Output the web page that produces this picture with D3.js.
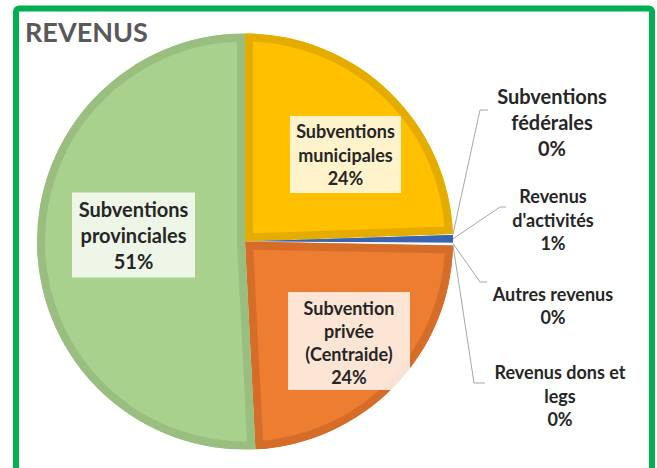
<!DOCTYPE html>
<html>
<head>
<meta charset="utf-8">
<script src="https://cdn.jsdelivr.net/npm/d3@7"></script>
<style>
  html, body { margin: 0; padding: 0; background: #fff; }
</style>
</head>
<body>
<div id="chart"></div>
<script>
// Revenus: parts en %, dans l'ordre horaire depuis midi
var CATEGORIES = ['Subventions\nmunicipales', 'Subventions\nfédérales', "Revenus\nd'activités",
                  'Autres revenus', 'Revenus dons et\nlegs', 'Subvention\nprivée\n(Centraide)',
                  'Subventions\nprovinciales'];
var VALUES = [24.45, 0.05, 0.6, 0.1, 0.1, 23.9, 50.8];
var TITLE = 'REVENUS';

// couleurs de remplissage / bordure par part
var FILLS = ['#FFC000', '#FFFFFF', '#4472C4', '#FFFFFF', '#FFFFFF', '#ED7D31', '#A9D18E'];
var BORDERS = ['#E5AC00', 'none', '#3A64B0', 'none', 'none', '#D56D29', '#99BE80'];

// placement des étiquettes (mise en page, pas des données)
var LAYOUT = [
  {inside: true, cx: 345.5, cy: 154.5, w: 111, h: 77, fs: 18, lh: 23.3},
  {inside: false, cx: 552, cy: 122, fs: 20, lh: 26, elbow: [480, 110], end: [488, 110]},
  {inside: false, cx: 553, cy: 219.5, fs: 18, lh: 23.5, elbow: [500, 207], end: [506, 207]},
  {inside: false, cx: 553, cy: 305.5, fs: 18, lh: 23.5, elbow: [480, 282], end: [487, 282]},
  {inside: false, cx: 560, cy: 395.5, fs: 18, lh: 23.5, elbow: [474, 383], end: [485, 383]},
  {inside: true, cx: 349, cy: 342.5, w: 122, h: 98, boxCy: 341, fs: 18, lh: 23.3},
  {inside: true, cx: 133.5, cy: 235, w: 123, h: 85, fs: 20, lh: 26}
];

var W = 657, H = 468;
var cx = 245, cy = 241.5, r = 208, border = 8;
var FONT = 'Lato, "Open Sans", sans-serif';

var svg = d3.select('#chart').append('svg')
    .attr('width', W).attr('height', H)
    .style('display', 'block').style('background', '#fff');

var defs = svg.append('defs');

var pie = d3.pie().sort(null).value(function (d) { return d; });
var arcs = pie(VALUES);
var arc = d3.arc().innerRadius(0).outerRadius(r);
var pct = d3.format('.0f');

var g = svg.append('g').attr('transform', 'translate(' + cx + ',' + cy + ')');

// parts avec bordure intérieure (trait découpé par la part elle-même)
arcs.forEach(function (a, i) {
    defs.append('clipPath').attr('id', 'clip' + i)
        .append('path').attr('d', arc(a));
    g.append('path').attr('d', arc(a)).attr('fill', FILLS[i]);
    if (BORDERS[i] !== 'none') {
        g.append('path').attr('d', arc(a))
            .attr('fill', 'none').attr('stroke', BORDERS[i])
            .attr('stroke-width', border * 2).attr('stroke-linejoin', 'round')
            .attr('clip-path', 'url(#clip' + i + ')');
    }
});

// lignes de rappel
arcs.forEach(function (a, i) {
    var L = LAYOUT[i];
    if (L.inside) return;
    var mid = (a.startAngle + a.endAngle) / 2;
    var p0 = [cx + r * Math.sin(mid), cy - r * Math.cos(mid)];
    svg.append('polyline')
        .attr('points', [p0, L.elbow, L.end].map(function (p) { return p.join(','); }).join(' '))
        .attr('fill', 'none').attr('stroke', '#A6A6A6').attr('stroke-width', 1);
});

// étiquettes
arcs.forEach(function (a, i) {
    var L = LAYOUT[i];
    var lines = CATEGORIES[i].split('\n').concat([pct(VALUES[i]) + '%']);
    if (L.inside) {
        var by = L.boxCy != null ? L.boxCy : L.cy;
        svg.append('rect')
            .attr('x', L.cx - L.w / 2).attr('y', by - L.h / 2)
            .attr('width', L.w).attr('height', L.h)
            .attr('fill', '#fff').attr('fill-opacity', 0.8);
    }
    var t = svg.append('text')
        .attr('text-anchor', 'middle')
        .attr('font-family', FONT).attr('font-weight', 'bold')
        .attr('font-size', L.fs).attr('fill', '#262626');
    var y0 = L.cy - (lines.length - 1) * L.lh / 2;
    lines.forEach(function (s, k) {
        t.append('tspan').attr('x', L.cx).attr('y', y0 + k * L.lh)
            .attr('dominant-baseline', 'central').text(s);
    });
});

// titre
svg.append('text').attr('x', 25).attr('y', 42)
    .attr('font-family', FONT).attr('font-weight', 'bold')
    .attr('font-size', 27).attr('fill', '#595959')
    .text(TITLE);

// cadre vert
svg.append('rect').attr('x', 16).attr('y', 8.5)
    .attr('width', 636).attr('height', 490).attr('rx', 3)
    .attr('fill', 'none').attr('stroke', '#00B050').attr('stroke-width', 6);
</script>
</body>
</html>
